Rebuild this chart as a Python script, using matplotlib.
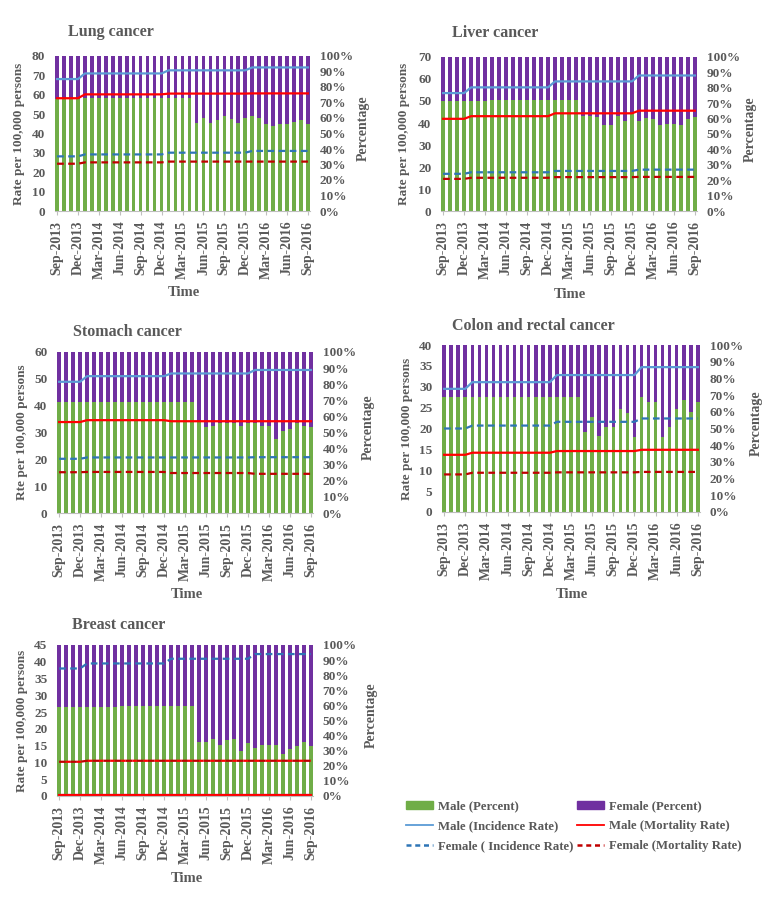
import numpy as np
import pandas as pd
import matplotlib
matplotlib.use("Agg")
import matplotlib.pyplot as plt
from matplotlib.patches import Patch
from matplotlib.lines import Line2D

# ---------------- data ----------------
months = pd.date_range("2013-09-01", "2016-09-01", freq="MS")
month_labels = [d.strftime("%b-%Y") for d in months]
year_counts = [4, 12, 12, 9]          # months of 2013, 2014, 2015, 2016 shown

cancers = ["Lung cancer", "Liver cancer", "Stomach cancer",
           "Colon and rectal cancer", "Breast cancer"]

lung_male_pct = [72.3, 72.3, 72.3, 72.3, 72.8, 72.8, 72.8, 72.8, 73.2, 73.2,
                 73.2, 73.2, 73.2, 73.2, 73.2, 73.2, 73.2, 73.2, 73.2, 73.2,
                 57, 60, 57, 59, 61, 59.5, 57, 60, 61, 60,
                 56, 55, 56, 56, 57.5, 59, 56]
liver_male_pct = [71.2, 71.2, 71.2, 71.2, 71.2, 71.2, 71.2, 72, 72, 72,
                  72, 72, 72, 72, 72, 72, 72, 72, 72, 72,
                  62, 62, 61, 56, 56, 61.4, 58.5, 63, 58.5, 60.5,
                  60, 55.8, 56.4, 56.2, 55.7, 60, 61]
stomach_male_pct = [69, 69, 69, 69, 69, 69, 69, 69, 69, 69,
                    69, 69, 69, 69, 69, 69, 69, 69, 69, 69,
                    56.5, 53.2, 54, 56.2, 56.2, 56.2, 54.2, 56.2, 56.2, 54.2,
                    54.2, 46.2, 51, 52, 56.2, 54.2, 53.2]
colon_male_pct = [68.8, 68.8, 68.8, 68.8, 68.8, 68.8, 68.8, 68.8, 68.8, 68.8,
                  68.8, 68.8, 68.8, 68.8, 68.8, 68.8, 68.8, 68.8, 68.8, 68.8,
                  47.9, 56.9, 45.7, 50.9, 50.9, 61.8, 59, 44.7, 68.8, 65.8,
                  65.8, 44.7, 50.9, 61.8, 66.8, 60, 66]
breast_male_pct = [58.8, 58.8, 58.8, 58.8, 58.8, 58.8, 58.8, 58.8, 58.8, 59.9,
                   59.9, 59.9, 59.9, 59.9, 59.9, 59.9, 59.9, 59.9, 59.9, 59.9,
                   36, 36, 37.8, 34, 37, 37.8, 30, 35, 32, 33.7,
                   33.7, 33.5, 28, 31.2, 33.2, 35.8, 33]

# annual rates per 100,000 (2013, 2014, 2015, 2016)
lung_male_inc = [68.1, 71.0, 72.6, 74.1]
lung_male_mort = [58.2, 60.2, 60.6, 60.7]
lung_female_inc = [28.2, 29.2, 30.1, 31.0]
lung_female_mort = [24.4, 25.1, 25.5, 25.5]

liver_male_inc = [53.6, 56.2, 58.9, 61.6]
liver_male_mort = [41.9, 43.1, 44.4, 45.6]
liver_female_inc = [16.9, 17.6, 18.2, 18.8]
liver_female_mort = [14.6, 15.1, 15.4, 15.5]

stomach_male_inc = [48.9, 51.0, 52.0, 53.3]
stomach_male_mort = [33.9, 34.6, 34.2, 34.2]
stomach_female_inc = [20.2, 20.7, 20.7, 20.8]
stomach_female_mort = [15.2, 15.3, 14.9, 14.6]

colon_male_inc = [29.5, 31.1, 32.8, 34.7]
colon_male_mort = [13.7, 14.2, 14.6, 14.9]
colon_female_inc = [20.0, 20.7, 21.6, 22.4]
colon_female_mort = [9.0, 9.4, 9.5, 9.6]

breast_male_inc = [0.3, 0.3, 0.3, 0.3]
breast_male_mort = [0.2, 0.2, 0.2, 0.2]
breast_female_inc = [38.0, 39.5, 40.9, 42.3]
breast_female_mort = [10.2, 10.5, 10.5, 10.5]

left_max = [80, 70, 60, 40, 45]
left_step = [10, 10, 10, 5, 5]
left_titles = ["Rate per 100,000 persons", "Rate per 100,000 persons",
               "Rte per 100,000 persons", "Rate per 100,000 persons",
               "Rate per 100,000 persons"]

legend_labels = ["Male (Percent)", "Female (Percent)",
                 "Male (Incidence Rate)", "Male (Mortality Rate)",
                 "Female ( Incidence Rate)", "Female (Mortality Rate)"]

male_pcts = [lung_male_pct, liver_male_pct, stomach_male_pct, colon_male_pct, breast_male_pct]
rates = [
    (lung_male_inc, lung_male_mort, lung_female_inc, lung_female_mort),
    (liver_male_inc, liver_male_mort, liver_female_inc, liver_female_mort),
    (stomach_male_inc, stomach_male_mort, stomach_female_inc, stomach_female_mort),
    (colon_male_inc, colon_male_mort, colon_female_inc, colon_female_mort),
    (breast_male_inc, breast_male_mort, breast_female_inc, breast_female_mort),
]

# ---------------- style ----------------
GREEN = "#70AD47"
PURPLE = "#7030A0"
LBLUE = "#5B9BD5"
RED = "#FF0000"
DBLUE = "#2E75B6"
DRED = "#C00000"
TXT = "#595959"
FONT = ["Liberation Serif", "DejaVu Serif"]

plt.rcParams["font.family"] = FONT
plt.rcParams["font.weight"] = "bold"

W, H = 771, 902
fig = plt.figure(figsize=(W / 100, H / 100), dpi=100)

# panel geometry in pixels: (left, top, right, bottom), title pos, ylabel x, right label x, time y, time x
geo = [
    ((55, 56, 310, 211), (68, 32), 19, 363, 292, 184),
    ((441, 57, 697, 211), (452, 33), 404, 750, 295, 570),
    ((57, 352, 313, 513), (73, 332), 22, 368, 595, 187),
    ((442, 345, 700, 512), (452, 326), 407, 756, 595, 572),
    ((57, 645, 313, 796), (72, 625), 22, 371, 878, 187),
]


def fx(px):
    return px / W


def fy(py):
    return 1 - py / H


x = np.arange(len(months))

for i, name in enumerate(cancers):
    (l, t, r, b), (tx, ty), ylx, rlx, timey, timex = geo[i]
    ax = fig.add_axes([fx(l), fy(b), fx(r) - fx(l), (b - t) / H])
    ax2 = ax.twinx()
    ax.set_zorder(ax2.get_zorder() + 1)
    ax.patch.set_visible(False)

    male = np.array(male_pcts[i])
    female = 100 - male
    ax2.bar(x, male, width=0.5, color=GREEN, linewidth=0)
    ax2.bar(x, female, bottom=male, width=0.5, color=PURPLE, linewidth=0)
    ax2.set_ylim(0, 100)
    ax2.set_yticks(np.arange(0, 101, 10))
    ax2.set_yticklabels([f"{v}%" for v in range(0, 101, 10)])

    mi, mm, fi, fm = rates[i]
    ax.plot(x, np.repeat(mi, year_counts), color=LBLUE, lw=1.6)
    ax.plot(x, np.repeat(mm, year_counts), color=RED, lw=1.6)
    ax.plot(x, np.repeat(fi, year_counts), color=DBLUE, lw=1.6, ls=(0, (3, 2)))
    if i == 4:
        ax.plot(x, np.repeat(fm, year_counts), color=DRED, lw=1.6, ls=(0, (3, 2)), gapcolor=RED)
    else:
        ax.plot(x, np.repeat(fm, year_counts), color=DRED, lw=1.6, ls=(0, (3, 2)))

    ax.set_ylim(0, left_max[i])
    ax.set_yticks(np.arange(0, left_max[i] + 0.1, left_step[i]))
    ax.set_xlim(-0.3, len(months) - 0.7)
    ax.set_xticks(x[::3])
    ax.set_xticklabels(month_labels[::3], rotation=90)

    for a in (ax, ax2):
        for s in ("top", "left", "right"):
            a.spines[s].set_visible(False)
        a.spines["bottom"].set_color("#BFBFBF")
    ax2.spines["bottom"].set_visible(False)

    ax.tick_params(axis="x", direction="out", length=3, color="#BFBFBF",
                   labelsize=10, labelcolor=TXT, pad=4)
    ax.tick_params(axis="y", length=0, labelsize=9.5, labelcolor=TXT, pad=7)
    ax2.tick_params(axis="y", length=0, labelsize=9.5, labelcolor=TXT, pad=7)
    for lab in ax.get_xticklabels() + ax.get_yticklabels() + ax2.get_yticklabels():
        lab.set_fontweight("bold")

    cy = (t + b) / 2
    fig.text(fx(tx), fy(ty), name, fontsize=11.5, fontweight="bold", color=TXT,
             ha="left", va="center")
    fig.text(fx(ylx), fy(cy), left_titles[i], rotation=90, fontsize=9.5,
             fontweight="bold", color=TXT, ha="center", va="center")
    fig.text(fx(rlx), fy(cy - 5), "Percentage", rotation=90, fontsize=10,
             fontweight="bold", color=TXT, ha="center", va="center")
    fig.text(fx(timex), fy(timey), "Time", fontsize=10.5, fontweight="bold",
             color=TXT, ha="center", va="center")

handles = [
    Patch(color=GREEN),
    Line2D([], [], color=LBLUE, lw=1.3),
    Line2D([], [], color=DBLUE, lw=1.8, ls=(0, (2, 1.5))),
    Patch(color=PURPLE),
    Line2D([], [], color=RED, lw=1.3),
    Line2D([], [], color=DRED, lw=1.8, ls=(0, (2, 1.5))),
]
labels = [legend_labels[0], legend_labels[2], legend_labels[4],
          legend_labels[1], legend_labels[3], legend_labels[5]]
leg = fig.legend(handles, labels, loc="upper left", ncol=2, frameon=False,
                 bbox_to_anchor=(fx(395), fy(789)), handlelength=2.1,
                 handleheight=0.6, handletextpad=0.4, columnspacing=0.25,
                 labelspacing=0.6,
                 prop={"family": FONT, "weight": "bold", "size": 9.2})
for txt in leg.get_texts():
    txt.set_color(TXT)

fig.savefig("out.png", dpi=100)
